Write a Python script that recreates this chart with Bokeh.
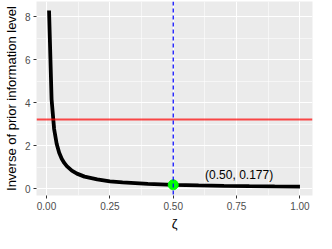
from bokeh.plotting import figure
from bokeh.models import FixedTicker, Range1d, Span, Label, NumeralTickFormatter
from bokeh.embed import file_html
from bokeh.resources import INLINE

# data
zeta = [0.01, 0.02, 0.03, 0.04, 0.05, 0.06, 0.07, 0.08, 0.10, 0.12, 0.15,
        0.20, 0.25, 0.30, 0.40, 0.50, 0.60, 0.70, 0.80, 0.90, 1.00]
inv_info = [8.30, 4.16, 2.78, 2.09, 1.67, 1.39, 1.20, 1.05, 0.84, 0.70, 0.56,
            0.43, 0.34, 0.29, 0.22, 0.177, 0.15, 0.13, 0.115, 0.103, 0.094]
threshold = 3.22
zeta_sel = 0.50
inv_sel = 0.177
point_label = "(0.50, 0.177)"
x_ticks = [0.0, 0.25, 0.5, 0.75, 1.0]
x_minor = [0.125, 0.375, 0.625, 0.875]
y_ticks = [0, 2, 4, 6, 8]
y_minor = [1, 3, 5, 7]

FONT = "Liberation Sans"

p = figure(width=316, height=233, output_backend="svg", toolbar_location=None,
           x_range=Range1d(-0.0395, 1.0495), y_range=Range1d(-0.32, 8.72),
           min_border_left=0, min_border_right=4, min_border_top=1, min_border_bottom=0)
p.background_fill_color = "#EBEBEB"
p.border_fill_color = "white"
p.outline_line_color = None

p.xaxis.ticker = FixedTicker(ticks=x_ticks, minor_ticks=x_minor)
p.yaxis.ticker = FixedTicker(ticks=y_ticks, minor_ticks=y_minor)
p.xaxis.formatter = NumeralTickFormatter(format="0.00")
p.yaxis.formatter = NumeralTickFormatter(format="0")

for g in (p.xgrid, p.ygrid):
    g.grid_line_color = "white"
    g.grid_line_width = 1.1
    g.minor_grid_line_color = "white"
    g.minor_grid_line_width = 0.55

for ax in (p.xaxis, p.yaxis):
    ax.axis_line_color = None
    ax.major_tick_line_color = "#333333"
    ax.major_tick_in = 0
    ax.major_tick_out = 3
    ax.minor_tick_line_color = None
    ax.major_label_text_font = FONT
    ax.major_label_text_font_size = "10px"
    ax.major_label_text_color = "#4D4D4D"
    ax.major_label_standoff = 2
    ax.axis_label_text_font = FONT
    ax.axis_label_text_font_size = "13px"
    ax.axis_label_text_font_style = "normal"
    ax.axis_label_text_color = "black"
    ax.axis_label_standoff = 3

p.xaxis.axis_label = "ζ"
p.yaxis.axis_label = "Inverse of prior information level"

p.line(zeta, inv_info, line_color="black", line_width=3.8)
p.add_layout(Span(location=threshold, dimension="width", line_color="red", line_alpha=0.7,
                  line_width=2))
p.add_layout(Span(location=zeta_sel, dimension="height", line_color="blue", line_width=1.2,
                  line_dash="4 3"))
p.scatter([zeta_sel], [inv_sel], size=10, fill_color="#00FF00", line_color="#00FF00")
p.add_layout(Label(x=0.76, y=0.63, text=point_label, text_font=FONT, text_font_size="12px",
                   text_align="center", text_baseline="middle", text_color="black"))

open("out.html", "w").write(file_html(p, INLINE))
